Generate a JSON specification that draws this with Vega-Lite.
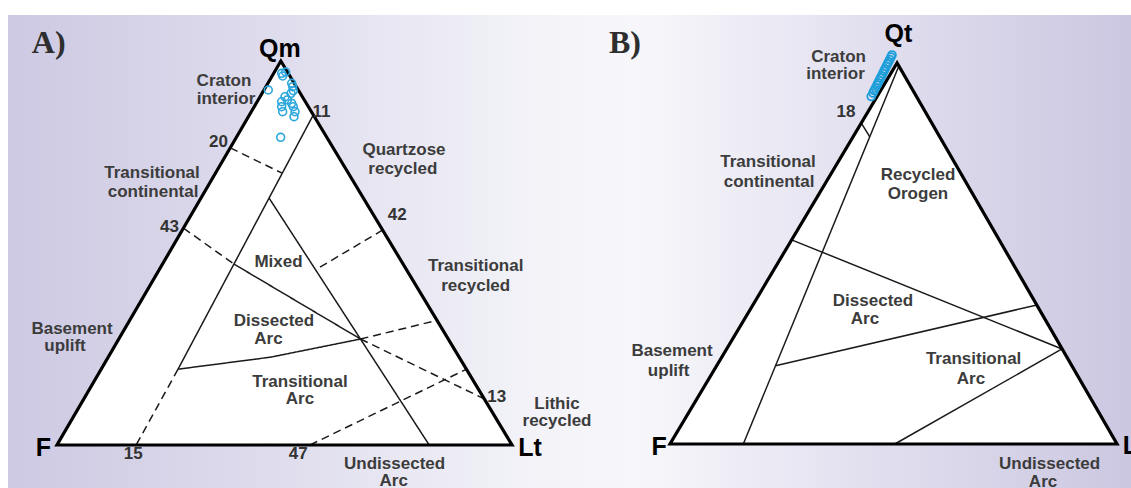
{
  "$schema": "https://vega.github.io/schema/vega-lite/v6.json",
  "width": 1123,
  "height": 473,
  "autosize": {"type": "none"},
  "padding": {"left": 8, "top": 15, "right": 0, "bottom": 0},
  "background": "#ffffff",
  "config": {"view": {"stroke": null}},
  "datasets": {
    "triA": [
      {"o": 1, "x": 0, "y": 0},
      {"o": 2, "x": 49.2, "y": 86.6},
      {"o": 3, "x": 100, "y": 0},
      {"o": 4, "x": 0, "y": 0},
      {"o": 5, "x": 49.2, "y": 86.6}
    ],
    "triB": [
      {"o": 1, "x": 0, "y": 0},
      {"o": 2, "x": 50.8, "y": 86.6},
      {"o": 3, "x": 100, "y": 0},
      {"o": 4, "x": 0, "y": 0},
      {"o": 5, "x": 50.8, "y": 86.6}
    ],
    "linesA": [
      {"id": "s1", "style": "solid", "o": 1, "x": 56.3, "y": 74.4},
      {"id": "s1", "style": "solid", "o": 2, "x": 26.6, "y": 17.1},
      {"id": "s2", "style": "solid", "o": 1, "x": 46.6, "y": 55.7},
      {"id": "s2", "style": "solid", "o": 2, "x": 81.8, "y": 0},
      {"id": "s3", "style": "solid", "o": 1, "x": 38.9, "y": 40.8},
      {"id": "s3", "style": "solid", "o": 2, "x": 66.7, "y": 23.9},
      {"id": "s4", "style": "solid", "o": 1, "x": 26.6, "y": 17.1},
      {"id": "s4", "style": "solid", "o": 2, "x": 46.9, "y": 19.8},
      {"id": "s4", "style": "solid", "o": 3, "x": 66.7, "y": 23.9},
      {"id": "d1", "style": "dashed", "o": 1, "x": 38.1, "y": 67.0},
      {"id": "d1", "style": "dashed", "o": 2, "x": 49.5, "y": 61.3},
      {"id": "d2", "style": "dashed", "o": 1, "x": 27.8, "y": 48.9},
      {"id": "d2", "style": "dashed", "o": 2, "x": 38.9, "y": 40.8},
      {"id": "d3", "style": "dashed", "o": 1, "x": 66.7, "y": 23.9},
      {"id": "d3", "style": "dashed", "o": 2, "x": 93.9, "y": 10.4},
      {"id": "d4", "style": "dashed", "o": 1, "x": 66.7, "y": 23.9},
      {"id": "d4", "style": "dashed", "o": 2, "x": 83.5, "y": 28.1},
      {"id": "d5", "style": "dashed", "o": 1, "x": 55.6, "y": 0},
      {"id": "d5", "style": "dashed", "o": 2, "x": 90.0, "y": 17.1},
      {"id": "d6", "style": "dashed", "o": 1, "x": 26.6, "y": 17.1},
      {"id": "d6", "style": "dashed", "o": 2, "x": 17.4, "y": 0},
      {"id": "d7", "style": "dashed", "o": 1, "x": 71.6, "y": 48.5},
      {"id": "d7", "style": "dashed", "o": 2, "x": 56.8, "y": 39.5}
    ],
    "linesB": [
      {"id": "b1", "o": 1, "x": 51.2, "y": 85.9},
      {"id": "b1", "o": 2, "x": 16.4, "y": 0},
      {"id": "b2", "o": 1, "x": 42.8, "y": 72.95},
      {"id": "b2", "o": 2, "x": 44.7, "y": 69.8},
      {"id": "b3", "o": 1, "x": 27.2, "y": 46.4},
      {"id": "b3", "o": 2, "x": 87.7, "y": 21.6},
      {"id": "b4", "o": 1, "x": 23.6, "y": 17.8},
      {"id": "b4", "o": 2, "x": 82.1, "y": 31.6},
      {"id": "b5", "o": 1, "x": 87.7, "y": 21.6},
      {"id": "b5", "o": 2, "x": 50.3, "y": 0}
    ],
    "ptsA": [
      {"x": 49.38, "y": 83.83},
      {"x": 50.26, "y": 84.12},
      {"x": 49.60, "y": 83.22},
      {"x": 46.44, "y": 80.06},
      {"x": 51.58, "y": 81.57},
      {"x": 51.80, "y": 80.81},
      {"x": 51.93, "y": 79.91},
      {"x": 51.43, "y": 79.32},
      {"x": 50.11, "y": 78.55},
      {"x": 49.38, "y": 77.42},
      {"x": 49.38, "y": 76.30},
      {"x": 49.60, "y": 75.17},
      {"x": 51.58, "y": 77.06},
      {"x": 51.93, "y": 76.30},
      {"x": 52.31, "y": 75.17},
      {"x": 52.09, "y": 74.04},
      {"x": 50.62, "y": 77.81},
      {"x": 49.16, "y": 69.40}
    ],
    "ptsB": [
      {"x": 49.66, "y": 88.41},
      {"x": 49.44, "y": 87.95},
      {"x": 49.16, "y": 87.39},
      {"x": 48.88, "y": 86.82},
      {"x": 48.66, "y": 86.36},
      {"x": 48.38, "y": 85.80},
      {"x": 48.10, "y": 85.23},
      {"x": 47.87, "y": 84.77},
      {"x": 47.60, "y": 84.20},
      {"x": 47.32, "y": 83.64},
      {"x": 47.09, "y": 83.18},
      {"x": 46.81, "y": 82.61},
      {"x": 46.53, "y": 82.05},
      {"x": 46.31, "y": 81.59},
      {"x": 45.97, "y": 80.91},
      {"x": 45.69, "y": 80.34},
      {"x": 45.41, "y": 79.77},
      {"x": 45.02, "y": 78.98}
    ],
    "labelsA": [
      {"text": "A)", "kind": "title", "x": -1.82, "y": 90.66},
      {"text": "Qm", "kind": "vertex", "x": 49.0, "y": 89.4},
      {"text": "F", "kind": "vertex", "x": -3.0, "y": -0.74},
      {"text": "Lt", "kind": "vertex", "x": 103.96, "y": -0.74},
      {"text": "Craton", "kind": "region", "x": 36.70, "y": 82.1},
      {"text": "interior", "kind": "region", "x": 37.14, "y": 78.1},
      {"text": "Quartzose", "kind": "region", "x": 76.26, "y": 66.53},
      {"text": "recycled", "kind": "region", "x": 76.0, "y": 62.25},
      {"text": "Transitional", "kind": "region", "x": 20.88, "y": 61.34},
      {"text": "continental", "kind": "region", "x": 21.1, "y": 57.06},
      {"text": "Mixed", "kind": "region", "x": 48.68, "y": 41.27},
      {"text": "Dissected", "kind": "region", "x": 47.69, "y": 27.97},
      {"text": "Arc", "kind": "region", "x": 46.48, "y": 23.91},
      {"text": "Transitional", "kind": "region", "x": 53.4, "y": 14.21},
      {"text": "Arc", "kind": "region", "x": 53.4, "y": 10.37},
      {"text": "Transitional", "kind": "region", "x": 92.02, "y": 40.37},
      {"text": "recycled", "kind": "region", "x": 92.02, "y": 35.86},
      {"text": "Basement", "kind": "region", "x": 3.30, "y": 26.16},
      {"text": "uplift", "kind": "region", "x": 1.76, "y": 22.33},
      {"text": "Lithic", "kind": "region", "x": 109.89, "y": 9.25},
      {"text": "recycled", "kind": "region", "x": 109.89, "y": 5.41},
      {"text": "Undissected", "kind": "region", "x": 74.2, "y": -4.29},
      {"text": "Arc", "kind": "region", "x": 74.0, "y": -8.12},
      {"text": "20", "kind": "tick", "x": 35.47, "y": 68.34},
      {"text": "11", "kind": "tick", "x": 58.15, "y": 75.10},
      {"text": "43", "kind": "tick", "x": 24.70, "y": 49.23},
      {"text": "42", "kind": "tick", "x": 74.79, "y": 51.87},
      {"text": "13", "kind": "tick", "x": 96.64, "y": 10.89},
      {"text": "15", "kind": "tick", "x": 16.77, "y": -2.03},
      {"text": "47", "kind": "tick", "x": 53.01, "y": -2.03}
    ],
    "labelsB": [
      {"text": "B)", "kind": "title", "x": -10.07, "y": 91.25},
      {"text": "Qt", "kind": "vertex", "x": 51.10, "y": 93.18},
      {"text": "F", "kind": "vertex", "x": -2.42, "y": -0.68},
      {"text": "L", "kind": "vertex", "x": 102.98, "y": -0.45},
      {"text": "Craton", "kind": "region", "x": 37.72, "y": 87.95},
      {"text": "interior", "kind": "region", "x": 37.02, "y": 84.09},
      {"text": "Transitional", "kind": "region", "x": 21.92, "y": 64.09},
      {"text": "continental", "kind": "region", "x": 22.15, "y": 59.55},
      {"text": "Recycled", "kind": "region", "x": 55.48, "y": 61.14},
      {"text": "Orogen", "kind": "region", "x": 55.48, "y": 56.82},
      {"text": "Dissected", "kind": "region", "x": 45.41, "y": 32.50},
      {"text": "Arc", "kind": "region", "x": 43.62, "y": 28.41},
      {"text": "Transitional", "kind": "region", "x": 67.92, "y": 19.32},
      {"text": "Arc", "kind": "region", "x": 67.34, "y": 14.77},
      {"text": "Basement", "kind": "region", "x": 0.45, "y": 21.14},
      {"text": "uplift", "kind": "region", "x": -0.31, "y": 16.59},
      {"text": "Undissected", "kind": "region", "x": 84.92, "y": -4.55},
      {"text": "Arc", "kind": "region", "x": 83.45, "y": -8.64},
      {"text": "18", "kind": "tick", "x": 39.37, "y": 75.45}
    ]
  },
  "layer": [
    {
      "data": {"values": [{"part": "frame"}]},
      "mark": {
        "type": "rect",
        "fill": {
          "gradient": "linear",
          "x1": 0, "y1": 0, "x2": 1, "y2": 0,
          "stops": [
            {"offset": 0, "color": "#cdc9e3"},
            {"offset": 0.22, "color": "#dddbec"},
            {"offset": 0.46, "color": "#f2f2f8"},
            {"offset": 0.56, "color": "#f7f7fb"},
            {"offset": 0.78, "color": "#e0deee"},
            {"offset": 1, "color": "#cbc7e1"}
          ]
        }
      },
      "encoding": {}
    },
    {
      "encoding": {
        "x": {"field": "x", "type": "quantitative", "scale": {"domain": [-10.77, 236.04], "nice": false, "zero": false}, "axis": null},
        "y": {"field": "y", "type": "quantitative", "scale": {"domain": [-9.70, 96.98], "nice": false, "zero": false}, "axis": null}
      },
      "layer": [
        {"data": {"values": [{"part": "top border"}]}, "mark": {"type": "rule", "color": "#85858a", "strokeWidth": 2},
         "encoding": {"x": {"datum": -10.77}, "x2": {"datum": 236.04}, "y": {"datum": 96.98}}},
        {"data": {"values": [{"part": "left border"}]}, "mark": {"type": "rule", "color": "#85858a", "strokeWidth": 2},
         "encoding": {"x": {"datum": -10.77}, "y": {"datum": -9.70}, "y2": {"datum": 96.98}}},
        {"data": {"name": "triA"}, "mark": {"type": "area", "fill": "#ffffff"}, "encoding": {"y2": {"datum": 0}}},
        {"data": {"name": "linesA"}, "mark": {"type": "line", "color": "#1a1a1a", "strokeWidth": 1.5},
         "encoding": {
           "detail": {"field": "id", "type": "nominal"},
           "order": {"field": "o", "type": "quantitative"},
           "strokeDash": {"field": "style", "type": "nominal", "scale": {"domain": ["solid", "dashed"], "range": [[1, 0], [8, 5]]}, "legend": null}
         }},
        {"data": {"name": "triA"}, "mark": {"type": "line", "color": "#000000", "strokeWidth": 3.2, "strokeJoin": "miter"},
         "encoding": {"order": {"field": "o", "type": "quantitative"}}},
        {"data": {"name": "ptsA"}, "mark": {"type": "point", "shape": "circle", "filled": false, "color": "#2aa6dd", "strokeWidth": 1.6, "size": 62, "opacity": 1}},
        {"data": {"name": "labelsA"}, "transform": [{"filter": {"field": "kind", "equal": "title"}}],
         "mark": {"type": "text", "font": "Liberation Serif", "fontWeight": "bold", "fontSize": 32, "color": "#2e2e2e", "align": "center", "baseline": "middle"},
         "encoding": {"text": {"field": "text"}}},
        {"data": {"name": "labelsA"}, "transform": [{"filter": {"field": "kind", "equal": "vertex"}}],
         "mark": {"type": "text", "font": "Liberation Sans", "fontWeight": "bold", "fontSize": 25, "color": "#000000", "align": "center", "baseline": "middle"},
         "encoding": {"text": {"field": "text"}}},
        {"data": {"name": "labelsA"}, "transform": [{"filter": {"field": "kind", "equal": "region"}}],
         "mark": {"type": "text", "font": "Liberation Sans", "fontWeight": "bold", "fontSize": 17, "color": "#3c3c3c", "align": "center", "baseline": "middle"},
         "encoding": {"text": {"field": "text"}}},
        {"data": {"name": "labelsA"}, "transform": [{"filter": {"field": "kind", "equal": "tick"}}],
         "mark": {"type": "text", "font": "Liberation Sans", "fontWeight": "bold", "fontSize": 17, "color": "#333333", "align": "center", "baseline": "middle"},
         "encoding": {"text": {"field": "text"}}}
      ]
    },
    {
      "encoding": {
        "x": {"field": "x", "type": "quantitative", "scale": {"domain": [-148.1, 103.13], "nice": false, "zero": false}, "axis": null},
        "y": {"field": "y", "type": "quantitative", "scale": {"domain": [-10.0, 97.5], "nice": false, "zero": false}, "axis": null}
      },
      "layer": [
        {"data": {"name": "triB"}, "mark": {"type": "area", "fill": "#ffffff"}, "encoding": {"y2": {"datum": 0}}},
        {"data": {"name": "linesB"}, "mark": {"type": "line", "color": "#1a1a1a", "strokeWidth": 1.5},
         "encoding": {
           "detail": {"field": "id", "type": "nominal"},
           "order": {"field": "o", "type": "quantitative"}
         }},
        {"data": {"name": "triB"}, "mark": {"type": "line", "color": "#000000", "strokeWidth": 3.2, "strokeJoin": "miter"},
         "encoding": {"order": {"field": "o", "type": "quantitative"}}},
        {"data": {"name": "ptsB"}, "mark": {"type": "point", "shape": "circle", "filled": false, "color": "#1f9fda", "strokeWidth": 1.8, "size": 62, "opacity": 1}},
        {"data": {"name": "labelsB"}, "transform": [{"filter": {"field": "kind", "equal": "title"}}],
         "mark": {"type": "text", "font": "Liberation Serif", "fontWeight": "bold", "fontSize": 32, "color": "#2e2e2e", "align": "center", "baseline": "middle"},
         "encoding": {"text": {"field": "text"}}},
        {"data": {"name": "labelsB"}, "transform": [{"filter": {"field": "kind", "equal": "vertex"}}],
         "mark": {"type": "text", "font": "Liberation Sans", "fontWeight": "bold", "fontSize": 25, "color": "#000000", "align": "center", "baseline": "middle"},
         "encoding": {"text": {"field": "text"}}},
        {"data": {"name": "labelsB"}, "transform": [{"filter": {"field": "kind", "equal": "region"}}],
         "mark": {"type": "text", "font": "Liberation Sans", "fontWeight": "bold", "fontSize": 17, "color": "#3c3c3c", "align": "center", "baseline": "middle"},
         "encoding": {"text": {"field": "text"}}},
        {"data": {"name": "labelsB"}, "transform": [{"filter": {"field": "kind", "equal": "tick"}}],
         "mark": {"type": "text", "font": "Liberation Sans", "fontWeight": "bold", "fontSize": 17, "color": "#333333", "align": "center", "baseline": "middle"},
         "encoding": {"text": {"field": "text"}}}
      ]
    }
  ],
  "resolve": {"scale": {"x": "independent", "y": "independent"}}
}
